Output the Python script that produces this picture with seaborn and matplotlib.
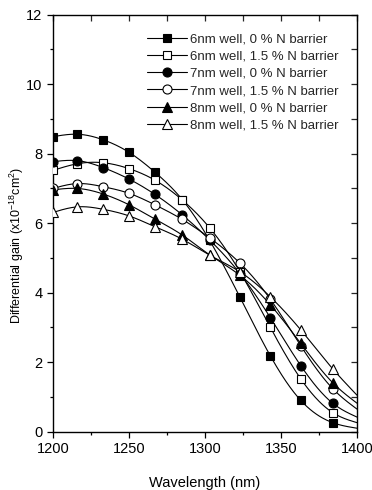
import numpy as np
import pandas as pd
import matplotlib
matplotlib.use("Agg")
import matplotlib.pyplot as plt
from matplotlib.lines import Line2D
from matplotlib.ticker import MultipleLocator
import seaborn as sns

# ---- data ----
wavelength = [1200, 1216, 1233, 1250, 1267, 1285, 1303, 1323, 1343, 1363, 1384]
gain_6nm_0 = [8.49, 8.56, 8.40, 8.04, 7.47, 6.68, 5.51, 3.87, 2.18, 0.90, 0.26]
gain_6nm_15 = [7.52, 7.71, 7.74, 7.57, 7.24, 6.67, 5.87, 4.60, 3.00, 1.52, 0.55]
gain_7nm_0 = [7.77, 7.80, 7.60, 7.27, 6.83, 6.24, 5.52, 4.55, 3.28, 1.90, 0.82]
gain_7nm_15 = [7.00, 7.14, 7.05, 6.86, 6.53, 6.11, 5.58, 4.85, 3.81, 2.47, 1.24]
gain_8nm_0 = [6.96, 7.00, 6.84, 6.53, 6.12, 5.66, 5.09, 4.50, 3.65, 2.54, 1.41]
gain_8nm_15 = [6.31, 6.47, 6.40, 6.21, 5.90, 5.54, 5.08, 4.60, 3.88, 2.93, 1.81]
# where each fitted curve ends at the right edge (1400 nm)
curve_end_x = 1400
curve_end = [0.10, 0.26, 0.42, 0.65, 0.82, 1.05]

labels = ["6nm well, 0 % N barrier", "6nm well, 1.5 % N barrier",
          "7nm well, 0 % N barrier", "7nm well, 1.5 % N barrier",
          "8nm well, 0 % N barrier", "8nm well, 1.5 % N barrier"]
series = [gain_6nm_0, gain_6nm_15, gain_7nm_0, gain_7nm_15, gain_8nm_0, gain_8nm_15]
markers = ["s", "s", "o", "o", "^", "^"]
filled = [True, False, True, False, True, False]


def natural_spline(x, y, xs):
    x = np.asarray(x, float); y = np.asarray(y, float)
    n = len(x); h = np.diff(x)
    A = np.zeros((n, n)); b = np.zeros(n)
    A[0, 0] = A[-1, -1] = 1
    for i in range(1, n - 1):
        A[i, i - 1] = h[i - 1]; A[i, i] = 2 * (h[i - 1] + h[i]); A[i, i + 1] = h[i]
        b[i] = 3 * ((y[i + 1] - y[i]) / h[i] - (y[i] - y[i - 1]) / h[i - 1])
    c = np.linalg.solve(A, b)
    out = np.empty_like(xs, dtype=float)
    for k, xv in enumerate(xs):
        i = min(max(np.searchsorted(x, xv) - 1, 0), n - 2)
        d = xv - x[i]
        bb = (y[i + 1] - y[i]) / h[i] - h[i] * (2 * c[i] + c[i + 1]) / 3
        dd = (c[i + 1] - c[i]) / (3 * h[i])
        out[k] = y[i] + bb * d + c[i] * d ** 2 + dd * d ** 3
    return out


# tables
rows = []
curve_rows = []
for lab, ys, end in zip(labels, series, curve_end):
    for xv, yv in zip(wavelength, ys):
        rows.append({"wl": xv, "gain": yv, "series": lab})
    xk = wavelength + [curve_end_x]
    yk = ys + [end]
    xs = np.linspace(wavelength[0], curve_end_x, 300)
    ysm = natural_spline(xk, yk, xs)
    for xv, yv in zip(xs, ysm):
        curve_rows.append({"wl": xv, "gain": yv, "series": lab})
pts = pd.DataFrame(rows)
curves = pd.DataFrame(curve_rows)

sns.set_theme(style="ticks")
plt.rcParams["font.family"] = ["Liberation Sans", "DejaVu Sans"]
plt.rcParams["mathtext.fontset"] = "custom"
plt.rcParams["mathtext.rm"] = "Liberation Sans"
plt.rcParams["mathtext.it"] = "Liberation Sans"
plt.rcParams["mathtext.bf"] = "Liberation Sans:bold"

fig = plt.figure(figsize=(3.72, 4.90), dpi=100)
ax = fig.add_axes([0.1425, 0.119, 0.8172, 0.851])

sns.lineplot(data=curves, x="wl", y="gain", units="series", estimator=None,
             color="black", linewidth=0.8, ax=ax, legend=False, sort=False)

handles = []
for lab, m, f in zip(labels, markers, filled):
    sub = pts[pts["series"] == lab]
    ms = 7.0 if m == "^" else (6.2 if m == "s" else 6.5)
    ax.plot(sub["wl"], sub["gain"], linestyle="none", marker=m, markersize=ms,
            markerfacecolor="black" if f else "white", markeredgecolor="black",
            markeredgewidth=0.8, zorder=3)
    handles.append(Line2D([], [], color="black", linewidth=0.8, marker=m,
                          markersize=ms, markerfacecolor="black" if f else "white",
                          markeredgecolor="black", markeredgewidth=0.8))

ax.set_xlim(1200, 1400)
ax.set_ylim(0, 12)
ax.xaxis.set_major_locator(MultipleLocator(50))
ax.xaxis.set_minor_locator(MultipleLocator(25))
ax.yaxis.set_major_locator(MultipleLocator(2))
ax.yaxis.set_minor_locator(MultipleLocator(1))

for s in ax.spines.values():
    s.set_visible(True)
    s.set_linewidth(1.0)
    s.set_color("black")

ax.tick_params(axis="both", which="both", direction="out", color="black",
               labelsize=10.5, width=0.9, labelcolor="black")
ax.tick_params(which="major", length=4)
ax.tick_params(which="minor", length=2.5)
# top/right inward ticks
axt = ax.secondary_xaxis("top")
axt.xaxis.set_major_locator(MultipleLocator(50))
axt.xaxis.set_minor_locator(MultipleLocator(25))
axt.tick_params(which="both", direction="in", labeltop=False, width=0.9)
axt.tick_params(which="major", length=4)
axt.tick_params(which="minor", length=4)
axr = ax.secondary_yaxis("right")
axr.yaxis.set_major_locator(MultipleLocator(2))
axr.yaxis.set_minor_locator(MultipleLocator(1))
axr.tick_params(which="both", direction="in", labelright=False, width=0.9)
axr.tick_params(which="major", length=4)
axr.tick_params(which="minor", length=4)
axt.spines["top"].set_visible(False)
axr.spines["right"].set_visible(False)

ax.set_xlabel("Wavelength (nm)", fontsize=10.5, labelpad=14, color="black")
ax.set_ylabel(r"Differential gain (x10$^{-18}$cm$^{2}$)", fontsize=9.0,
              labelpad=2, color="black")
ax.yaxis.set_label_coords(-0.088, 0.448)

leg = ax.legend(handles, labels, loc="upper right", bbox_to_anchor=(0.965, 0.975),
                frameon=False, fontsize=9.5, handlelength=3.0, handletextpad=0.25,
                labelspacing=0.38, borderaxespad=0.2)

fig.savefig("out.png", dpi=100)
